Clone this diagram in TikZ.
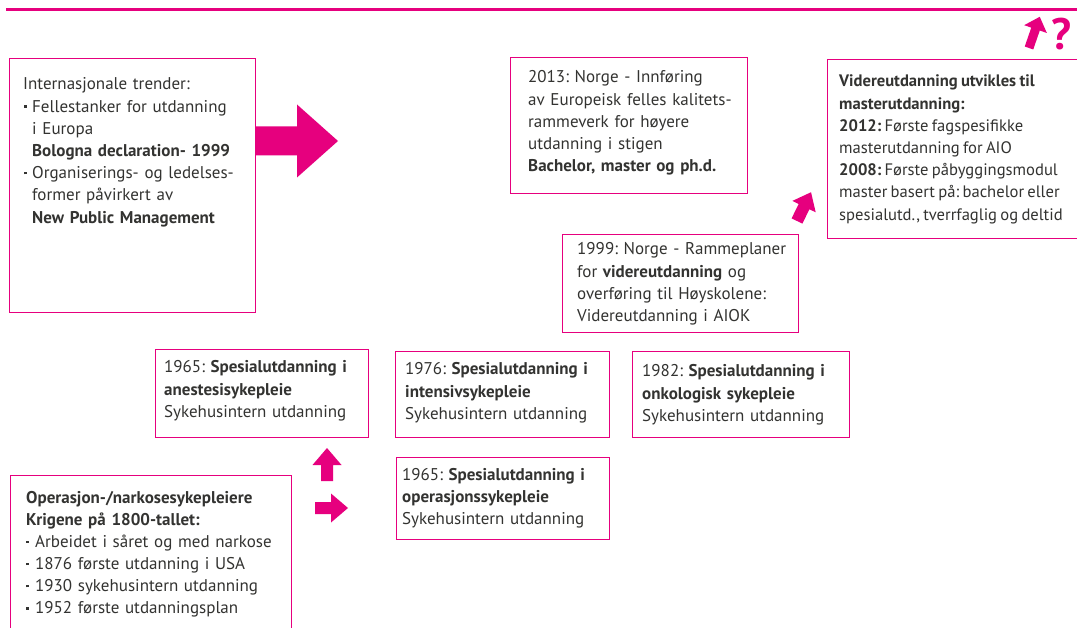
\documentclass[tikz,border=0pt]{standalone}
\usepackage{fontspec}
\setmainfont{PT Sans}
\frenchspacing
\definecolor{pk}{HTML}{E6007E}
\definecolor{tx}{HTML}{333331}
\newcommand\fatarrow[7]{% x,y tail, angle, length, headlength, shaft half, head half
  \begin{scope}[shift={(#1,#2)}, rotate=#3]
    \fill[pk] (0,-#6) -- ({#4-#5},-#6) -- ({#4-#5},-#7) -- (#4,0) -- ({#4-#5},#7) -- ({#4-#5},#6) -- (0,#6) -- cycle;
  \end{scope}}
\newcommand\bul[1]{\makebox[#1][l]{\raisebox{4.5pt}{\rule{2.4pt}{2.4pt}}}}
\newcommand\tightsp{\spaceskip=3.3pt plus 1pt minus 1pt\relax\xspaceskip=3.3pt plus 1pt minus 1pt\relax}
\begin{document}
\begin{tikzpicture}[x=1pt,y=-1pt,
  box/.style={draw=pk, line width=1.3pt, anchor=north west, inner sep=0pt},
  txt/.style={anchor=base west, inner sep=0pt, text width=320pt, align=left, text=tx,
     font=\fontsize{17}{22.2}\selectfont}]
\useasboundingbox (0,0) rectangle (1077,628);
\fill[white] (0,0) rectangle (1077,628);
\draw[pk, line width=3pt] (6,10) -- (1077,10);

% boxes
\node[box, minimum width=246pt, minimum height=254pt] (bA) at (9,58) {};
\node[box, minimum width=237pt, minimum height=136pt] (b2013) at (510,57) {};
\node[box, minimum width=260pt, minimum height=179pt] (bVid) at (827,59) {};
\node[box, minimum width=236pt, minimum height=98pt] (b1999) at (562,234) {};
\node[box, minimum width=213pt, minimum height=88pt] (bAn) at (155,349) {};
\node[box, minimum width=214pt, minimum height=86pt] (bIn) at (395,351) {};
\node[box, minimum width=217pt, minimum height=86pt] (bOn) at (632,351) {};
\node[box, minimum width=213pt, minimum height=82pt] (bOp) at (396,457) {};
\node[box, minimum width=281pt, minimum height=160pt] (bNa) at (10,475) {};

% texts
\node[txt] (tA) at (23,90) {Internasjonale trender:\\
\hspace*{1pt}\bul{8pt}Fellestanker for utdanning\\
\hspace*{9pt}i Europa\\
\hspace*{9pt}\textbf{Bologna declaration- 1999}\\
\hspace*{1pt}\bul{8pt}Organiserings- og ledelses-\\
\hspace*{9pt}former påvirkert av\\
\hspace*{9pt}\textbf{New Public Management}};

\node[txt] (t2013) at (528,83) {2013: Norge - Innføring\\
av Europeisk felles kalitets-\\
rammeverk for høyere\\
utdanning i stigen\\
\textbf{Bachelor, master og ph.d.}};

\node[txt, font=\fontsize{16.6}{22.2}\selectfont] (tVid) at (839,87) {\tightsp\textbf{Videreutdanning utvikles til}\\
\textbf{masterutdanning:}\\
\textbf{2012:} Første fagspesifikke\\
masterutdanning for AIO\\
\textbf{2008:} Første påbyggingsmodul\\
master basert på: bachelor eller\\
spesialutd., tverrfaglig og deltid};

\node[txt] (t1999) at (577,255) {1999: Norge - Rammeplaner\\
for \textbf{videreutdanning} og\\
overføring til Høyskolene:\\
Videreutdanning i AIOK};

\node[txt] (tAn) at (164,373) {1965: \textbf{Spesialutdanning i}\\
\textbf{anestesisykepleie}\\
Sykehusintern utdanning};

\node[txt] (tIn) at (405,375) {1976: \textbf{Spesialutdanning i}\\
\textbf{intensivsykepleie}\\
Sykehusintern utdanning};

\node[txt] (tOn) at (642,377) {1982: \textbf{Spesialutdanning i}\\
\textbf{onkologisk sykepleie}\\
Sykehusintern utdanning};

\node[txt] (tOp) at (402,480) {1965: \textbf{Spesialutdanning i}\\
\textbf{operasjonssykepleie}\\
Sykehusintern utdanning};

\node[txt] (tNa) at (26,503) {\textbf{Operasjon-/narkosesykepleiere}\\
\textbf{Krigene på 1800-tallet:}\\
\bul{9pt}Arbeidet i såret og med narkose\\
\bul{9pt}1876 første utdanning i USA\\
\bul{9pt}1930 sykehusintern utdanning\\
\bul{9pt}1952 første utdanningsplan};

% arrows
\fatarrow{255}{141}{0}{83}{41}{14.5}{36.5}
\fatarrow{327}{481}{90}{33}{17}{6}{14.5}
\fatarrow{315}{508}{0}{33}{17}{6}{14.5}
\fatarrow{797}{221}{64}{32}{16}{6}{13}
\fatarrow{1029}{48}{71}{33}{13}{4.5}{12}
\node[anchor=base west, inner sep=0pt, text=pk, font=\fontsize{44}{44}\selectfont\bfseries] (q) at (1051,50) {?};
\end{tikzpicture}
\end{document}
